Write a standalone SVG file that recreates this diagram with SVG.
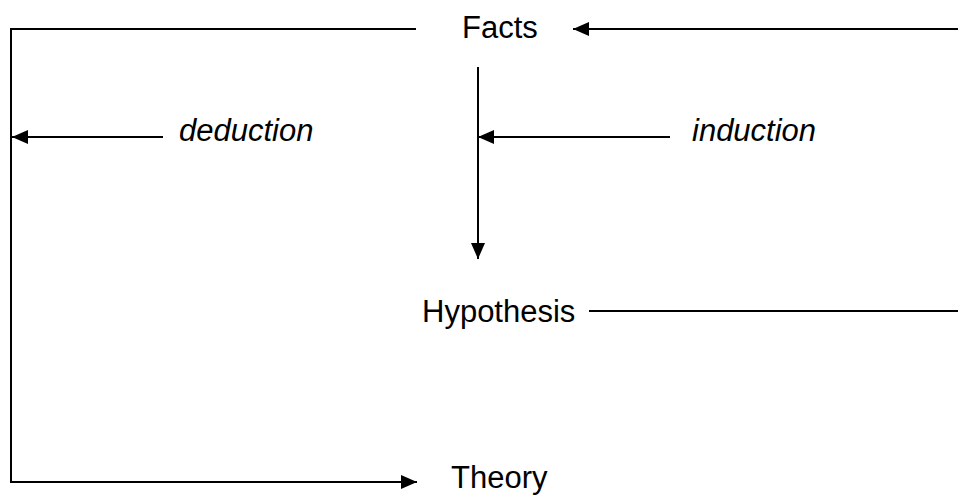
<svg xmlns="http://www.w3.org/2000/svg" width="958" height="496" viewBox="0 0 958 496">
<style>
text{font-family:"Liberation Sans",Arial,sans-serif;font-size:31px;fill:#000}
.lbl{font-style:italic}
.c{stroke:#000;stroke-width:2;fill:none}
</style>
<defs>
<marker id="ah" markerUnits="userSpaceOnUse" markerWidth="17" markerHeight="15" refX="16" refY="7" orient="auto">
<path d="M0,0 L16,7 L0,14 z" fill="#000"/>
</marker>
</defs>
<rect width="958" height="496" fill="#fff"/>
<g id="connectors">
<polyline class="c" points="416,29 11,29 11,482 417,482" marker-end="url(#ah)"/>
<line class="c" x1="958" y1="29" x2="573" y2="29" marker-end="url(#ah)"/>
<line class="c" x1="478" y1="67" x2="478" y2="259" marker-end="url(#ah)"/>
<line class="c" x1="670" y1="137" x2="478" y2="137" marker-end="url(#ah)"/>
<line class="c" x1="163" y1="137" x2="12" y2="137" marker-end="url(#ah)"/>
<line class="c" x1="589" y1="311" x2="958" y2="311"/>
<text class="lbl" x="179" y="141">deduction</text>
<text class="lbl" x="692" y="141">induction</text>
</g>
<g id="facts"><text x="462" y="38">Facts</text></g>
<g id="hypothesis"><text x="422" y="322">Hypothesis</text></g>
<g id="theory"><text x="451" y="488">Theory</text></g>
</svg>
